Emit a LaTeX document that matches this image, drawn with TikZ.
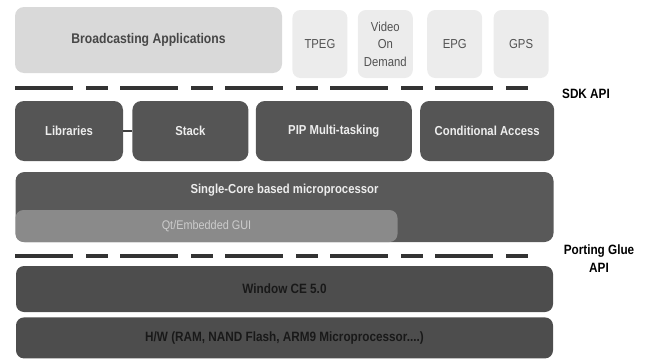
\documentclass[tikz,border=0pt]{standalone}
\usepackage{fontspec}
\setmainfont{Liberation Sans}[FakeStretch=0.87]
\usetikzlibrary{positioning}
\definecolor{appgray}{HTML}{D9D9D9}
\definecolor{svcgray}{HTML}{ECECEC}
\definecolor{modgray}{HTML}{555555}
\definecolor{cpugray}{HTML}{595959}
\definecolor{guigray}{HTML}{8A8A8A}
\definecolor{osgray}{HTML}{4D4D4D}
\definecolor{dashgray}{HTML}{333333}
\tikzstyle{app} = [rectangle, rounded corners=9pt, inner sep=0pt, minimum height=66pt, text centered, fill=appgray, text=black!72, font=\fontsize{14}{17}\selectfont\bfseries]
\tikzstyle{service} = [rectangle, rounded corners=8pt, inner sep=0pt, minimum width=55pt, minimum height=68pt, align=center, fill=svcgray, text=black!68, font=\fontsize{13}{17.5}\selectfont]
\tikzstyle{module} = [rectangle, rounded corners=9pt, inner sep=0pt, minimum height=60pt, text centered, fill=modgray, text=white!93!black, font=\fontsize{13}{16}\selectfont\bfseries]
\tikzstyle{gui} = [rectangle, rounded corners=8pt, inner sep=0pt, text centered, fill=guigray, text=white!80!black, font=\fontsize{12.5}{15}\selectfont]
\tikzstyle{layer} = [rectangle, rounded corners=8pt, inner sep=0pt, minimum width=537pt, text centered, fill=osgray, text=black!90, font=\fontsize{13.5}{16}\selectfont\bfseries]
\tikzstyle{api} = [dashgray, line width=3.5pt, dash pattern=on 57.5pt off 13.5pt on 21.5pt off 12.5pt]
\tikzstyle{apilabel} = [align=center, font=\fontsize{13.5}{18}\selectfont\bfseries]
\tikzstyle{link} = [draw=black!75, line width=1.5pt]

\begin{document}
\begin{tikzpicture}[x=1pt, y=-1pt]
    \useasboundingbox (0,0) rectangle (646,359);
    \node (1) [app, minimum width=267pt] at (148.5,40) {Broadcasting Applications};
    \node (2) [service, right=10pt of 1, yshift=-4pt] {TPEG};
    \node (3) [service, right=10pt of 2] {Video\\On\\Demand};
    \node (4) [service, right=14pt of 3] {EPG};
    \node (5) [service, right=11pt of 4] {GPS};
    \coordinate (sdkl) at (15,88);
    \coordinate (sdkr) at (528,88);
    \draw [api] (sdkl) -- (sdkr);
    \node (6) [apilabel] at (586,94) {SDK API};
    \node (7) [module, minimum width=108pt] at (69,131) {Libraries};
    \node (8) [module, minimum width=116pt, right=9pt of 7] {Stack};
    \node (9) [module, minimum width=156pt, right=7pt of 8] {PIP Multi-tasking};
    \node (10) [module, minimum width=134pt, right=8pt of 9] {Conditional Access};
    \draw [link] (7) -- (8);
    \node (11) [module, fill=cpugray, minimum width=538pt, text height=21pt, text depth=49pt] at (284.5,207)
      {Single-Core based microprocessor};
    \node (12) [gui, minimum width=382pt, minimum height=32pt, anchor=south west] at (11.south west)
      {Qt/Embedded GUI};
    \coordinate (gluel) at (15,256);
    \coordinate (gluer) at (528,256);
    \draw [api] (gluel) -- (gluer);
    \node (13) [apilabel] at (599,259) {Porting Glue\\API};
    \node (14) [layer, minimum height=46pt] at (284.5,289) {Window CE 5.0};
    \node (15) [layer, minimum height=41pt, below=5pt of 14]
      {H/W (RAM, NAND Flash, ARM9 Microprocessor....)};
  \end{tikzpicture}
\end{document}
